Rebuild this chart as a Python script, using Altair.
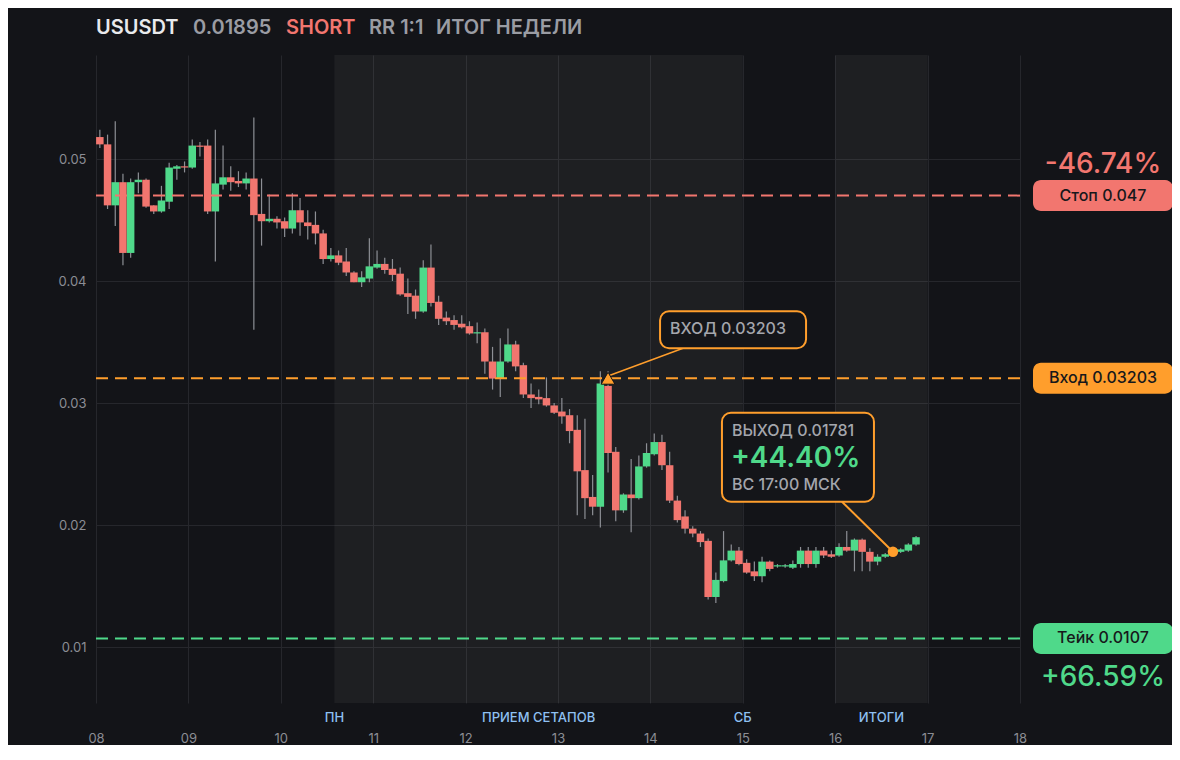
import altair as alt
import pandas as pd

# ---------------- data ----------------
START_DAY = 8.0
CANDLE_HOURS = 2

OPEN = [0.0518, 0.0512, 0.0462, 0.0481, 0.0423, 0.0481, 0.0483, 0.0462, 0.0457, 0.0465,
        0.0492, 0.0494, 0.0493, 0.0511, 0.0511, 0.0457, 0.0479, 0.0485, 0.0482, 0.0480,
        0.0484, 0.0455, 0.0449, 0.0451, 0.0449, 0.0443, 0.0458, 0.0448, 0.0446, 0.0439,
        0.0418, 0.0421, 0.0416, 0.0407, 0.0399, 0.0402, 0.0411, 0.0414, 0.0410, 0.0406,
        0.0390, 0.0388, 0.0375, 0.0411, 0.0383, 0.0370, 0.0368, 0.0365, 0.0363, 0.0357,
        0.0358, 0.0334, 0.0320, 0.0334, 0.0348, 0.0331, 0.0307, 0.0305, 0.0304, 0.0298,
        0.0293, 0.0290, 0.0278, 0.0245, 0.0223, 0.0215, 0.0314, 0.0260, 0.0212, 0.0225,
        0.0222, 0.0248, 0.0258, 0.0268, 0.0249, 0.0220, 0.0207, 0.0197, 0.0193, 0.0187,
        0.0141, 0.0154, 0.0171, 0.0179, 0.0169, 0.0162, 0.0158, 0.0170, 0.0166, 0.0166,
        0.0165, 0.0168, 0.0179, 0.0168, 0.0179, 0.0176, 0.0175, 0.0182, 0.0179, 0.0188,
        0.0178, 0.0170, 0.0174, 0.0176, 0.0178, 0.0179, 0.0184]
HIGH = [0.0524, 0.0520, 0.0531, 0.0488, 0.0484, 0.0489, 0.0484, 0.0462, 0.0478, 0.0497,
        0.0495, 0.0498, 0.0516, 0.0514, 0.0516, 0.0524, 0.0511, 0.0494, 0.0490, 0.0489,
        0.0534, 0.0484, 0.0471, 0.0453, 0.0452, 0.0472, 0.0468, 0.0458, 0.0457, 0.0442,
        0.0427, 0.0425, 0.0427, 0.0408, 0.0408, 0.0435, 0.0425, 0.0419, 0.0418, 0.0411,
        0.0402, 0.0393, 0.0417, 0.0430, 0.0388, 0.0375, 0.0372, 0.0372, 0.0367, 0.0366,
        0.0361, 0.0346, 0.0353, 0.0361, 0.0351, 0.0333, 0.0316, 0.0311, 0.0321, 0.0300,
        0.0304, 0.0295, 0.0290, 0.0287, 0.0241, 0.0326, 0.0326, 0.0264, 0.0226, 0.0254,
        0.0257, 0.0267, 0.0275, 0.0274, 0.0260, 0.0224, 0.0212, 0.0199, 0.0195, 0.0189,
        0.0161, 0.0195, 0.0184, 0.0182, 0.0172, 0.0170, 0.0174, 0.0171, 0.0168, 0.0168,
        0.0171, 0.0182, 0.0182, 0.0182, 0.0182, 0.0179, 0.0185, 0.0195, 0.0189, 0.0189,
        0.0181, 0.0176, 0.0177, 0.0179, 0.0181, 0.0185, 0.0191]
LOW = [0.0509, 0.0459, 0.0445, 0.0413, 0.0419, 0.0472, 0.0460, 0.0455, 0.0456, 0.0459,
       0.0483, 0.0489, 0.0492, 0.0502, 0.0455, 0.0416, 0.0475, 0.0474, 0.0477, 0.0475,
       0.0360, 0.0429, 0.0448, 0.0443, 0.0436, 0.0439, 0.0437, 0.0434, 0.0430, 0.0414,
       0.0416, 0.0413, 0.0404, 0.0399, 0.0395, 0.0399, 0.0410, 0.0406, 0.0400, 0.0388,
       0.0373, 0.0369, 0.0374, 0.0379, 0.0364, 0.0364, 0.0360, 0.0361, 0.0356, 0.0349,
       0.0324, 0.0311, 0.0305, 0.0333, 0.0326, 0.0304, 0.0296, 0.0299, 0.0297, 0.0291,
       0.0283, 0.0267, 0.0208, 0.0205, 0.0208, 0.0198, 0.0243, 0.0203, 0.0210, 0.0194,
       0.0221, 0.0247, 0.0257, 0.0245, 0.0218, 0.0202, 0.0193, 0.0190, 0.0182, 0.0139,
       0.0136, 0.0153, 0.0170, 0.0167, 0.0160, 0.0154, 0.0153, 0.0162, 0.0165, 0.0165,
       0.0164, 0.0165, 0.0165, 0.0165, 0.0173, 0.0173, 0.0174, 0.0178, 0.0162, 0.0162,
       0.0162, 0.0167, 0.0173, 0.0175, 0.0177, 0.0178, 0.0183]
CLOSE = [0.0512, 0.0462, 0.0481, 0.0423, 0.0481, 0.0483, 0.0461, 0.0457, 0.0466, 0.0493,
         0.0494, 0.0493, 0.0511, 0.0510, 0.0457, 0.0480, 0.0485, 0.0481, 0.0480, 0.0484,
         0.0454, 0.0449, 0.0451, 0.0448, 0.0443, 0.0458, 0.0448, 0.0445, 0.0439, 0.0418,
         0.0421, 0.0415, 0.0407, 0.0399, 0.0403, 0.0412, 0.0414, 0.0409, 0.0405, 0.0389,
         0.0387, 0.0375, 0.0411, 0.0382, 0.0369, 0.0367, 0.0364, 0.0362, 0.0357, 0.0358,
         0.0334, 0.0320, 0.0334, 0.0348, 0.0330, 0.0307, 0.0304, 0.0303, 0.0298, 0.0292,
         0.0289, 0.0277, 0.0244, 0.0222, 0.0215, 0.0316, 0.0259, 0.0212, 0.0225, 0.0222,
         0.0248, 0.0259, 0.0268, 0.0249, 0.0220, 0.0204, 0.0197, 0.0193, 0.0186, 0.0141,
         0.0155, 0.0171, 0.0179, 0.0168, 0.0161, 0.0158, 0.0170, 0.0164, 0.0167, 0.0167,
         0.0168, 0.0179, 0.0168, 0.0179, 0.0175, 0.0174, 0.0182, 0.0179, 0.0188, 0.0178,
         0.0170, 0.0174, 0.0176, 0.0178, 0.0180, 0.0184, 0.0190]

SHADE_START = [10.58, 16.0]
SHADE_END = [15.0, 17.0]
ZONE_LABELS = ["ПН", "ПРИЕМ СЕТАПОВ", "СБ", "ИТОГИ"]
ZONE_LABEL_DAYS = [10.58, 12.79, 15.0, 16.5]

X_TICKS = [8, 9, 10, 11, 12, 13, 14, 15, 16, 17, 18]
Y_TICKS = [0.01, 0.02, 0.03, 0.04, 0.05]

STOP = 0.047
ENTRY = 0.03203
TAKE = 0.0107
EXIT = 0.01781
ENTRY_DAY = 13.5417
EXIT_DAY = 16.625

LEVEL_PRICES = [STOP, ENTRY, TAKE]
LEVEL_TAGS = ["Стоп 0.047", "Вход 0.03203", "Тейк 0.0107"]
STOP_PCT = "-46.74%"
TAKE_PCT = "+66.59%"

TITLE_PARTS = ["USUSDT", "0.01895", "SHORT", "RR 1:1", "ИТОГ НЕДЕЛИ"]

# ---------------- styling ----------------
BG = "#131418"
GREEN = "#4fd98a"
RED = "#f2766f"
ORANGE = "#ff9e2c"
GRAY = "#a4a6ad"
AXIS_GRAY = "#8b8d94"
BLUE = "#8fc1f2"
FONT = "Inter"
LEVEL_COLORS = [RED, ORANGE, GREEN]

W, H = 924, 648
X_DOM = [8, 18]
Y_DOM = [0.00541, 0.058525]

candles = pd.DataFrame({
    "t": [START_DAY + (i + 0.5) * CANDLE_HOURS / 24 for i in range(len(OPEN))],
    "open": OPEN, "high": HIGH, "low": LOW, "close": CLOSE,
})
candles["dir"] = ["up" if c >= o else "down" for o, c in zip(OPEN, CLOSE)]

xs = alt.Scale(domain=X_DOM, nice=False, zero=False, padding=0)
ys = alt.Scale(domain=Y_DOM, nice=False, zero=False, padding=0)

x_axis = alt.Axis(values=X_TICKS, title=None,
                  labelExpr="datum.value < 10 ? '0' + datum.value : '' + datum.value",
                  labelPadding=29, grid=True, labelFlush=False)
y_axis = alt.Axis(values=Y_TICKS, title=None, format=".2f", labelPadding=10, grid=True, labelFlush=False)


def X(f, **kw):
    return alt.X(f, type="quantitative", scale=xs, axis=x_axis, **kw)


def Y(f, **kw):
    return alt.Y(f, type="quantitative", scale=ys, axis=y_axis, **kw)


one = pd.DataFrame({"k": [1]})

shade = alt.Chart(pd.DataFrame({"s": SHADE_START, "e": SHADE_END})).mark_rect(
    color="#ffffff", opacity=0.048
).encode(x=X("s"), x2="e", y=alt.value(0), y2=alt.value(H))

wicks = alt.Chart(candles).mark_rule(color="#8d8f95", strokeWidth=1.2).encode(
    x=X("t"), y=Y("low"), y2="high"
)
bodies = alt.Chart(candles).mark_bar(size=7.5).encode(
    x=X("t"), y=Y("open"), y2="close",
    color=alt.Color("dir:N", scale=alt.Scale(domain=["up", "down"], range=[GREEN, RED]), legend=None),
)

level_layers = []
for price, tag, col in zip(LEVEL_PRICES, LEVEL_TAGS, LEVEL_COLORS):
    d = pd.DataFrame({"p": [price], "label": [tag]})
    level_layers.append(
        alt.Chart(d).mark_rule(strokeWidth=2, strokeDash=[12, 7], color=col).encode(y=Y("p"))
    )
    level_layers.append(
        alt.Chart(d).mark_rect(cornerRadius=8, yOffset=-15.5, y2Offset=15.5, color=col).encode(
            x=alt.value(937), x2=alt.value(1077), y=Y("p"), y2="p")
    )
    level_layers.append(
        alt.Chart(d).mark_text(font=FONT, fontSize=16, fontWeight=500, color="#17181b",
                               align="center", baseline="middle").encode(
            x=alt.value(1007), y=Y("p"), text="label:N")
    )

entry_df = pd.DataFrame({"t": [ENTRY_DAY], "p": [ENTRY]})
exit_df = pd.DataFrame({"t": [EXIT_DAY], "p": [EXIT]})

entry_line = alt.Chart(entry_df).mark_rule(color=ORANGE, strokeWidth=1.4, x2Offset=75, y2Offset=-30,
                                           yOffset=-3, xOffset=2).encode(
    x=X("t"), x2="t", y=Y("p"), y2="p")
entry_box = alt.Chart(entry_df).mark_rect(
    fill="#141519", stroke=ORANGE, strokeWidth=2, cornerRadius=9,
    xOffset=52, x2Offset=198, yOffset=-67, y2Offset=-30,
).encode(x=X("t"), x2="t", y=Y("p"), y2="p")
entry_text = alt.Chart(entry_df).mark_text(
    text="ВХОД 0.03203", align="left", baseline="middle", dx=62, dy=-49,
    font=FONT, fontSize=16, fontWeight=500, color=GRAY,
).encode(x=X("t"), y=Y("p"))
entry_tri = alt.Chart(entry_df).mark_point(
    shape="triangle-up", filled=True, fill=ORANGE, stroke=BG, strokeWidth=1, size=190, opacity=1, yOffset=0
).encode(x=X("t"), y=Y("p"))

exit_line = alt.Chart(exit_df).mark_rule(color=ORANGE, strokeWidth=2, x2Offset=-51, y2Offset=-50).encode(
    x=X("t"), x2="t", y=Y("p"), y2="p")
exit_box = alt.Chart(exit_df).mark_rect(
    fill="#141519", stroke=ORANGE, strokeWidth=2, cornerRadius=9,
    xOffset=-171, x2Offset=-19, yOffset=-139, y2Offset=-50,
).encode(x=X("t"), x2="t", y=Y("p"), y2="p")
exit_t1 = alt.Chart(exit_df).mark_text(
    text="ВЫХОД 0.01781", align="left", baseline="middle", dx=-161, dy=-121,
    font=FONT, fontSize=16, fontWeight=500, color=GRAY,
).encode(x=X("t"), y=Y("p"))
exit_t2 = alt.Chart(exit_df).mark_text(
    text="+44.40%", align="left", baseline="middle", dx=-162, dy=-93,
    font=FONT, fontSize=28, fontWeight=600, color=GREEN,
).encode(x=X("t"), y=Y("p"))
exit_t3 = alt.Chart(exit_df).mark_text(
    text="ВС 17:00 МСК", align="left", baseline="middle", dx=-161, dy=-67,
    font=FONT, fontSize=16, fontWeight=500, color=GRAY,
).encode(x=X("t"), y=Y("p"))
exit_dot = alt.Chart(exit_df).mark_circle(color=ORANGE, size=110, opacity=1).encode(x=X("t"), y=Y("p"))

pct_stop = alt.Chart(pd.DataFrame({"p": [STOP]})).mark_text(
    text=STOP_PCT, font=FONT, fontSize=28, fontWeight=500, color=RED, align="center", baseline="middle", dy=-31
).encode(x=alt.value(1007), y=Y("p"))
pct_take = alt.Chart(pd.DataFrame({"p": [TAKE]})).mark_text(
    text=TAKE_PCT, font=FONT, fontSize=28, fontWeight=500, color=GREEN, align="center", baseline="middle", dy=40
).encode(x=alt.value(1007), y=Y("p"))

zone_text = alt.Chart(pd.DataFrame({"d": ZONE_LABEL_DAYS, "label": ZONE_LABELS})).mark_text(
    font=FONT, fontSize=13, fontWeight=500, color=BLUE, align="center", baseline="middle"
).encode(x=X("d"), y=alt.value(H + 15), text="label:N")

# title segments
title_colors = ["#e9eaec", "#9a9ca3", RED, "#9a9ca3", "#9a9ca3"]
title_x = [0, 97, 190, 273, 340]
title_layers = [
    alt.Chart(one).mark_text(
        text=txt, font=FONT, fontSize=20, fontWeight=600, color=col, align="left", baseline="middle"
    ).encode(x=alt.value(px), y=alt.value(-27))
    for txt, col, px in zip(TITLE_PARTS, title_colors, title_x)
]

chart = alt.layer(
    shade, wicks, bodies, *level_layers,
    entry_line, entry_box, entry_text, entry_tri,
    exit_line, exit_box, exit_t1, exit_t2, exit_t3, exit_dot,
    pct_stop, pct_take, zone_text,
    *title_layers,
).properties(
    width=W, height=H,
    autosize=alt.AutoSizeParams(type="none"),
    padding={"left": 88, "top": 47, "right": 152, "bottom": 42},
    background=BG,
).configure_view(stroke=None).configure_axis(
    gridColor="#26272c", gridWidth=1, domain=False, ticks=False,
    labelColor=AXIS_GRAY, labelFont=FONT, labelFontSize=13,
)

chart.save("out.html", embed_options={"renderer": "svg", "actions": False})
